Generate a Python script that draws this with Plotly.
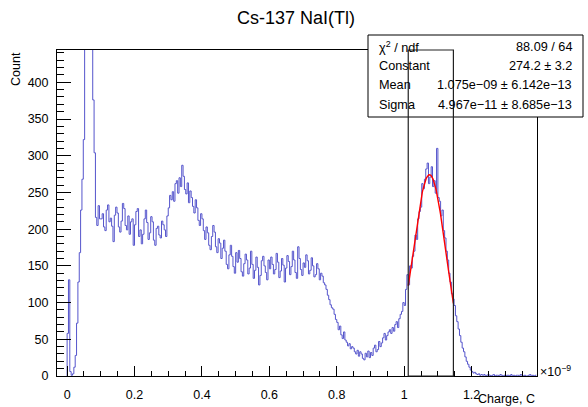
import numpy as np
import plotly.graph_objects as go

# ---------------- data (x in units of 1e-9 C) ----------------
bin_start = 0.0
bin_width = 0.004

counts_000 = [58, 131, 6, 1, 3, 12, 28, 72, 128, 168, 226, 268, 322, 520, 690, 840, 910, 860, 620, 376, 304, 216, 205, 232, 214]
counts_010 = [214, 221, 203, 198, 226, 233, 210, 215, 204, 183, 219, 230, 222, 203, 196, 211, 235, 228, 205, 199, 218, 193, 210, 214, 178]
counts_020 = [206, 224, 228, 190, 199, 180, 193, 214, 226, 209, 186, 195, 217, 210, 185, 178, 201, 204, 192, 188, 211, 206, 199, 190, 218]
counts_030 = [229, 246, 240, 251, 238, 262, 266, 249, 270, 258, 287, 272, 254, 248, 263, 236, 252, 243, 231, 222, 240, 229, 212, 205, 221]
counts_040 = [214, 198, 186, 203, 195, 178, 172, 190, 205, 196, 176, 168, 187, 181, 160, 174, 185, 170, 152, 146, 165, 178, 163, 149, 140]
counts_050 = [168, 155, 171, 160, 142, 136, 153, 166, 158, 139, 147, 170, 152, 133, 144, 162, 148, 124, 137, 157, 163, 150, 141, 131, 158]
counts_060 = [146, 162, 152, 139, 145, 167, 155, 134, 143, 160, 151, 128, 147, 164, 156, 138, 149, 170, 158, 141, 133, 176, 160, 145, 137]
counts_070 = [154, 148, 165, 157, 139, 144, 161, 150, 135, 138, 153, 146, 131, 140, 136, 127, 124, 118, 110, 104, 97, 93, 91, 84, 77]
counts_080 = [73, 63, 68, 56, 51, 60, 49, 46, 41, 44, 37, 40, 38, 33, 30, 35, 27, 33, 30, 24, 22, 31, 26, 34, 25]
counts_090 = [32, 28, 38, 42, 33, 36, 47, 40, 45, 52, 58, 49, 55, 60, 63, 58, 66, 61, 70, 74, 66, 78, 84, 88, 100]
counts_100 = [96, 118, 138, 124, 150, 147, 163, 170, 192, 186, 214, 224, 230, 262, 255, 268, 282, 290, 262, 271, 285, 258, 266, 249, 310]
counts_110 = [243, 238, 218, 226, 198, 188, 170, 158, 140, 128, 112, 105, 96, 82, 74, 64, 55, 46, 38, 33, 26, 20, 16, 12, 8]
counts_120 = [6, 4, 5, 3, 2, 3, 1, 2, 1, 2, 0, 1, 2, 1, 0, 1, 2, 0, 1, 1, 0, 2, 1, 0, 1]
counts_130 = [0, 1, 1, 0, 2, 0, 1, 0, 1, 1, 0, 2, 1, 0, 1, 0, 0, 1, 2, 0, 1, 0, 1]

# Gaussian fit results (from the stats box)
fit_constant = 274.2
fit_mean = 1.075      # x1e-9
fit_sigma = 0.04967   # x1e-9
fit_lo = 1.012
fit_hi = 1.146

stats_names = ["χ<sup>2</sup> / ndf", "Constant", "Mean", "Sigma"]
stats_values = ["88.09 / 64", "274.2 ± 3.2", "1.075e−09 ± 6.142e−13", "4.967e−11 ± 8.685e−13"]

counts = (counts_000 + counts_010 + counts_020 + counts_030 + counts_040 + counts_050 + counts_060
          + counts_070 + counts_080 + counts_090 + counts_100 + counts_110 + counts_120 + counts_130)

edges = bin_start + bin_width * np.arange(len(counts) + 1)
hx = np.concatenate([[edges[0]], edges])
hy = np.concatenate([[0], counts, [counts[-1]]])

fx = np.linspace(fit_lo, fit_hi, 120)
fy = fit_constant * np.exp(-0.5 * ((fx - fit_mean) / fit_sigma) ** 2)

# ---------------- layout geometry ----------------
W, H = 588, 407
L, R, T, B = 57, 537, 50, 376

def px(xp):
    return (xp - L) / (R - L)

def py(yp):
    return (B - yp) / (B - T)

FONT = "Liberation Sans, Arial, Helvetica, sans-serif"

fig = go.Figure()
fig.add_trace(go.Scatter(x=hx, y=hy, mode="lines", line=dict(color="#5555cc", width=1, shape="hv"),
                         hoverinfo="skip", showlegend=False))
fig.add_trace(go.Scatter(x=fx, y=fy, mode="lines", line=dict(color="#ff0000", width=1.4),
                         hoverinfo="skip", showlegend=False))

shapes = [
    # stats box
    dict(type="rect", xref="paper", yref="paper", x0=px(368), x1=px(583), y0=py(117), y1=py(35),
         fillcolor="white", line=dict(color="black", width=1), layer="above"),
    # fit range box
    dict(type="rect", xref="x", yref="paper", x0=fit_lo, x1=fit_hi, y0=0, y1=1,
         line=dict(color="#222222", width=1.2), fillcolor="rgba(0,0,0,0)", layer="above"),
]

annotations = [
    dict(text="Cs-137 NaI(Tl)", xref="paper", yref="paper", x=px(296), y=py(18), showarrow=False,
         font=dict(family=FONT, size=18, color="black"), xanchor="center", yanchor="middle"),
    dict(text="Count", xref="paper", yref="paper", x=px(16), y=py(50), showarrow=False, textangle=-90,
         font=dict(family=FONT, size=12.5, color="black"), xanchor="center", yanchor="top"),
    dict(text="Charge, C", xref="paper", yref="paper", x=px(537), y=py(399), showarrow=False,
         font=dict(family=FONT, size=12.5, color="black"), xanchor="right", yanchor="middle"),
    dict(text="×10<sup>−9</sup>", xref="paper", yref="paper", x=px(538), y=py(371), showarrow=False,
         font=dict(family=FONT, size=12.5, color="black"), xanchor="left", yanchor="middle"),
]
row_y = [47, 66, 85, 105]
for name, val, ry in zip(stats_names, stats_values, row_y):
    annotations.append(dict(text=name, xref="paper", yref="paper", x=px(377), y=py(ry), showarrow=False,
                            font=dict(family=FONT, size=12.7, color="black"), xanchor="left", yanchor="middle"))
    annotations.append(dict(text=val, xref="paper", yref="paper", x=px(574), y=py(ry), showarrow=False,
                            font=dict(family=FONT, size=12.7, color="black"), xanchor="right", yanchor="middle"))

fig.update_layout(
    width=W, height=H,
    margin=dict(l=L, r=W - R, t=T, b=H - B, pad=0, autoexpand=False),
    paper_bgcolor="white", plot_bgcolor="white",
    font=dict(family=FONT, size=12, color="black"),
    shapes=shapes, annotations=annotations, showlegend=False,
    xaxis=dict(range=[-0.030, 1.394], showgrid=False, zeroline=False, automargin=False,
               showline=True, linecolor="black", linewidth=1, mirror=True,
               ticks="inside", ticklen=10, tickcolor="black", tickwidth=1,
               tick0=0, dtick=0.2, ticklabelstandoff=7,
               minor=dict(ticks="inside", ticklen=5, dtick=0.05, tick0=0, tickcolor="black", showgrid=False),
               tickfont=dict(family=FONT, size=12.5, color="black")),
    yaxis=dict(range=[0, 444], showgrid=False, zeroline=False, automargin=False,
               showline=True, linecolor="black", linewidth=1, mirror=True,
               ticks="inside", ticklen=14, tickcolor="black", tickwidth=1,
               tick0=0, dtick=50, ticklabelstandoff=5,
               minor=dict(ticks="inside", ticklen=7, dtick=10, tick0=0, tickcolor="black", showgrid=False),
               tickfont=dict(family=FONT, size=12.5, color="black")),
)

fig.write_html("out.html", config={"displayModeBar": False},
               post_script="document.body.style.margin='0';document.body.style.padding='0';")
